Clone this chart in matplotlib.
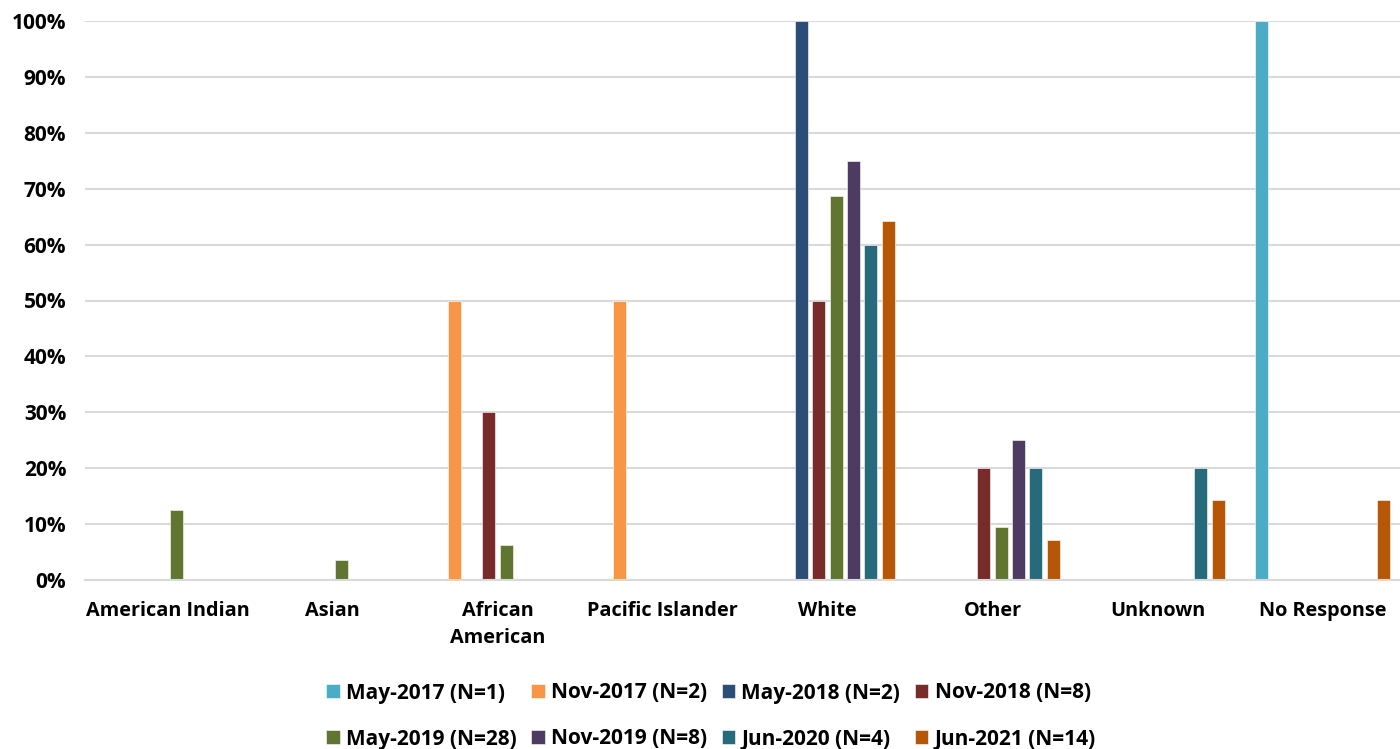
import matplotlib
matplotlib.use("Agg")
import matplotlib.pyplot as plt
import numpy as np
from matplotlib.ticker import PercentFormatter

plt.rcParams["font.family"] = ["Open Sans", "DejaVu Sans"]
plt.rcParams["font.weight"] = "bold"

categories = ["American Indian", "Asian", "African\nAmerican", "Pacific Islander",
              "White", "Other", "Unknown", "No Response"]
series = ["May-2017 (N=1)", "Nov-2017 (N=2)", "May-2018 (N=2)", "Nov-2018 (N=8)",
          "May-2019 (N=28)", "Nov-2019 (N=8)", "Jun-2020 (N=4)", "Jun-2021 (N=14)"]
colors = ["#4BACC6", "#F79646", "#2C4D75", "#772C2A",
          "#5F7530", "#4D3B62", "#276A7C", "#B65708"]

# share of respondents per category (fraction), one list per survey wave
may17 = [0, 0, 0, 0, 0, 0, 0, 1.00]
nov17 = [0, 0, 0.50, 0.50, 0, 0, 0, 0]
may18 = [0, 0, 0, 0, 1.00, 0, 0, 0]
nov18 = [0, 0, 0.30, 0, 0.50, 0.20, 0, 0]
may19 = [0.125, 0.0357, 0.063, 0, 0.6875, 0.094, 0, 0]
nov19 = [0, 0, 0, 0, 0.75, 0.25, 0, 0]
jun20 = [0, 0, 0, 0, 0.60, 0.20, 0.20, 0]
jun21 = [0, 0, 0, 0, 0.643, 0.071, 0.143, 0.143]
values = [may17, nov17, may18, nov18, may19, nov19, jun20, jun21]

W, H = 1400, 749
fig = plt.figure(figsize=(W / 100, H / 100), dpi=100)
ax = fig.add_axes([85 / W, (H - 580) / H, (1400 - 85) / W, (580 - 21) / H])

x = np.arange(len(categories))
step, bw = 0.105, 0.079
handles = []
for i, (lab, col, vals) in enumerate(zip(series, colors, values)):
    b = ax.bar(x + (i - 3.5) * step, vals, width=bw, color=col, label=lab,
               edgecolor="white", linewidth=0.4, zorder=3)
    handles.append(b)

ax.set_xlim(-0.5, 7.47)
ax.set_ylim(0, 1.0)
ax.set_yticks(np.arange(0, 1.01, 0.1))
ax.yaxis.set_major_formatter(PercentFormatter(1.0, decimals=0))
ax.grid(axis="y", color="#D9D9D9", lw=1.5, zorder=0)
ax.set_xticks(x)
ax.set_xticklabels(categories, fontsize=14.3, fontweight="bold", linespacing=1.5)
for t in ax.get_yticklabels():
    t.set_fontsize(15)
    t.set_fontweight("bold")
ax.tick_params(axis="both", length=0)
ax.tick_params(axis="x", pad=15)
ax.tick_params(axis="y", pad=13.5)
for s in ["top", "right", "left"]:
    ax.spines[s].set_visible(False)
ax.spines["bottom"].set_color("#D9D9D9")
ax.spines["bottom"].set_linewidth(1.5)
ax.spines["bottom"].set_zorder(4)

# row-major order for a 4-column legend
order = [0, 4, 1, 5, 2, 6, 3, 7]
leg = fig.legend([handles[k] for k in order], [series[k] for k in order],
                 ncol=4, loc="center", bbox_to_anchor=(711 / W, (H - 716) / H),
                 frameon=False, prop={"size": 15, "weight": "bold"},
                 handlelength=0.65, handleheight=0.65, handletextpad=0.3,
                 columnspacing=0.7, labelspacing=1.2)

fig.savefig("out.png", dpi=100)
